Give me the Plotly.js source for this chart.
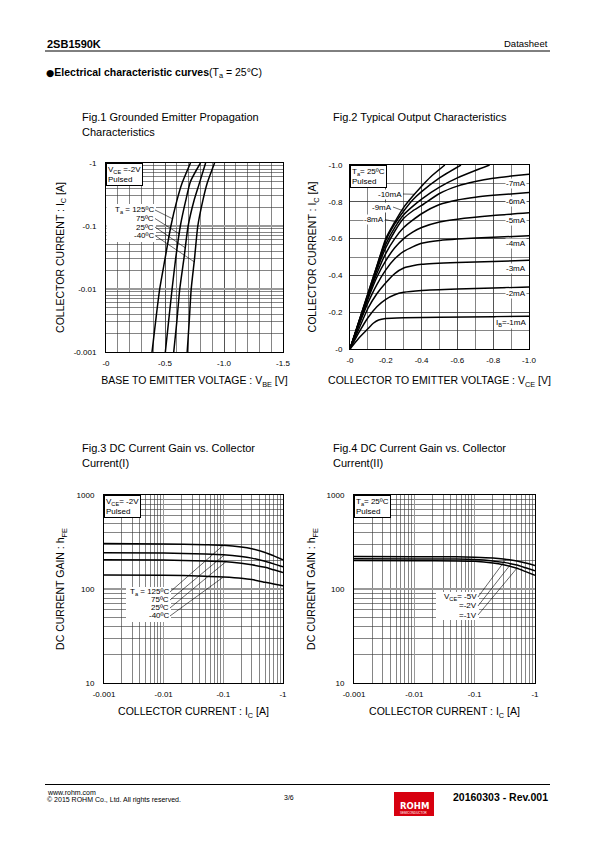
<!DOCTYPE html>
<html><head><meta charset="utf-8">
<script src="https://cdn.plot.ly/plotly-3.0.1.min.js"></script>
<style>html,body{margin:0;padding:0;background:#fff}#chart{width:595px;height:842px}</style>
</head><body><div id="chart"></div>
<script>
// ===== DATA (magnitudes; the datasheet labels them negative, PNP device) =====
// Fig.1  Grounded emitter propagation: |VBE| [V] vs |IC| [A], VCE=-2V
const fig1Labels = ['T<sub>a</sub> = 125ºC', '75ºC', '25ºC', '-40ºC'];
const fig1Ic_125 = [0.001, 0.003, 0.01, 0.03, 0.1, 0.25, 0.48, 1.0];
const fig1Vbe_125 = [0.39, 0.42, 0.455, 0.50, 0.55, 0.60, 0.645, 0.716];
const fig1Ic_75 = [0.001, 0.003, 0.01, 0.03, 0.1, 0.25, 0.51, 1.0];
const fig1Vbe_75 = [0.503, 0.53, 0.56, 0.59, 0.63, 0.675, 0.716, 0.80];
const fig1Ic_25 = [0.001, 0.003, 0.01, 0.03, 0.1, 0.25, 0.45, 1.0];
const fig1Vbe_25 = [0.574, 0.60, 0.625, 0.66, 0.696, 0.745, 0.787, 0.844];
const fig1Ic_m40 = [0.001, 0.003, 0.01, 0.03, 0.1, 0.25, 0.48, 1.0];
const fig1Vbe_m40 = [0.688, 0.705, 0.722, 0.75, 0.778, 0.82, 0.858, 0.92];
const fig1TickVals = [0.001, 0.01, 0.1, 1];
const fig1TickText = ['-0.001', '-0.01', '-0.1', '-1'];
const fig1XTickVals = [0, 0.5, 1.0, 1.5];
const fig1XTickText = ['-0', '-0.5', '-1.0', '-1.5'];

// Fig.2  Output characteristics: |VCE| [V] vs |IC| [A], Ta=25C
const fig2Labels = ['I<sub>B</sub>=-1mA', '-2mA', '-3mA', '-4mA', '-5mA', '-6mA', '-7mA', '-8mA', '-9mA', '-10mA'];
const fig2Vce_1 = [0, 0.05, 0.1, 0.13, 0.16, 0.2, 0.3, 0.5, 0.8, 1.0];
const fig2Ic_1  = [0, 0.06, 0.11, 0.14, 0.158, 0.166, 0.17, 0.172, 0.175, 0.178];
const fig2Vce_2 = [0, 0.05, 0.1, 0.15, 0.2, 0.25, 0.3, 0.4, 0.6, 0.8, 1.0];
const fig2Ic_2  = [0, 0.09, 0.17, 0.23, 0.27, 0.295, 0.308, 0.318, 0.326, 0.331, 0.337];
const fig2Vce_3 = [0, 0.05, 0.1, 0.15, 0.2, 0.25, 0.3, 0.35, 0.4, 0.6, 0.8, 1.0];
const fig2Ic_3  = [0, 0.11, 0.22, 0.30, 0.36, 0.41, 0.44, 0.452, 0.46, 0.47, 0.476, 0.482];
const fig2Vce_4 = [0, 0.05, 0.1, 0.15, 0.2, 0.25, 0.3, 0.35, 0.4, 0.5, 0.6, 0.8, 1.0];
const fig2Ic_4  = [0, 0.13, 0.25, 0.35, 0.43, 0.49, 0.53, 0.555, 0.575, 0.59, 0.598, 0.607, 0.615];
const fig2Vce_5 = [0, 0.05, 0.1, 0.15, 0.2, 0.25, 0.3, 0.35, 0.4, 0.5, 0.6, 0.8, 1.0];
const fig2Ic_5  = [0, 0.135, 0.27, 0.39, 0.48, 0.55, 0.60, 0.635, 0.66, 0.69, 0.705, 0.725, 0.74];
const fig2Vce_6 = [0, 0.05, 0.1, 0.15, 0.2, 0.25, 0.3, 0.35, 0.4, 0.5, 0.6, 0.7, 0.8, 1.0];
const fig2Ic_6  = [0, 0.14, 0.28, 0.41, 0.52, 0.60, 0.66, 0.70, 0.735, 0.785, 0.81, 0.825, 0.835, 0.85];
const fig2Vce_7 = [0, 0.05, 0.1, 0.15, 0.2, 0.25, 0.3, 0.35, 0.4, 0.5, 0.6, 0.7, 0.8, 0.9, 1.0];
const fig2Ic_7  = [0, 0.145, 0.29, 0.43, 0.55, 0.64, 0.71, 0.75, 0.78, 0.845, 0.885, 0.91, 0.928, 0.94, 0.95];
const fig2Vce_8 = [0, 0.05, 0.1, 0.15, 0.2, 0.25, 0.3, 0.35, 0.4, 0.5, 0.6, 0.7, 0.78];
const fig2Ic_8  = [0, 0.15, 0.29, 0.44, 0.57, 0.66, 0.73, 0.775, 0.815, 0.88, 0.93, 0.97, 1.0];
const fig2Vce_9 = [0, 0.05, 0.1, 0.15, 0.2, 0.25, 0.3, 0.35, 0.4, 0.5, 0.62];
const fig2Ic_9  = [0, 0.15, 0.30, 0.45, 0.59, 0.68, 0.75, 0.81, 0.855, 0.93, 1.0];
const fig2Vce_10 = [0, 0.05, 0.1, 0.15, 0.2, 0.25, 0.3, 0.35, 0.4, 0.45, 0.53];
const fig2Ic_10  = [0, 0.15, 0.30, 0.45, 0.60, 0.69, 0.77, 0.83, 0.885, 0.935, 1.0];
const fig2TickVals = [0, 0.2, 0.4, 0.6, 0.8, 1.0];
const fig2XTickText = ['-0', '-0.2', '-0.4', '-0.6', '-0.8', '-1.0'];
const fig2YTickText = ['-0', '-0.2', '-0.4', '-0.6', '-0.8', '-1.0'];

// Fig.3  DC current gain vs |IC| [A], VCE=-2V, by temperature
const fig3Labels = ['T<sub>a</sub> = 125ºC', '75ºC', '25ºC', '-40ºC'];
const fig3Ic = [0.001, 0.01, 0.05, 0.1, 0.2, 0.3, 0.5, 0.7, 1.0];
const fig3Hfe_125 = [305, 302, 296, 292, 280, 268, 245, 225, 205];
const fig3Hfe_75  = [243, 241, 236, 232, 222, 213, 197, 185, 172];
const fig3Hfe_25  = [205, 203, 199, 196, 188, 181, 170, 160, 150];
const fig3Hfe_m40 = [141, 140, 137, 134, 130, 126, 118, 113, 108];

// Fig.4  DC current gain vs |IC| [A], Ta=25C, by VCE
const fig4Labels = ['V<sub>CE</sub>= -5V', '=-2V', '=-1V'];
const fig4Ic = [0.001, 0.01, 0.05, 0.1, 0.2, 0.3, 0.5, 0.7, 1.0];
const fig4Hfe_5V = [222, 221, 220, 218, 214, 209, 199, 189, 178];
const fig4Hfe_2V = [210, 209, 208, 206, 199, 192, 180, 168, 156];
const fig4Hfe_1V = [201, 200, 199, 197, 189, 181, 166, 153, 140];

const icTickVals = [0.001, 0.01, 0.1, 1];
const icTickText = ['-0.001', '-0.01', '-0.1', '-1'];
const hfeTickVals = [10, 100, 1000];
const hfeTickText = ['10', '100', '1000'];

// ===== LAYOUT HELPERS =====
const W = 595, H = 842;
const FONT = '"Liberation Sans", Arial, Helvetica, sans-serif';
const BOX = {
  1: {x0: 106, x1: 283, y0: 163, y1: 352, xr: [0, 1.5], yr: [-3, 0], xlog: false, ylog: true},
  2: {x0: 350, x1: 529, y0: 165, y1: 349, xr: [0, 1], yr: [0, 1], xlog: false, ylog: false},
  3: {x0: 104, x1: 283, y0: 495, y1: 683, xr: [-3, 0], yr: [1, 3], xlog: true, ylog: true},
  4: {x0: 354, x1: 535, y0: 495, y1: 683, xr: [-3, 0], yr: [1, 3], xlog: true, ylog: true}
};
const dom = n => ({x: [BOX[n].x0 / W, BOX[n].x1 / W], y: [1 - BOX[n].y1 / H, 1 - BOX[n].y0 / H]});
function logMinor(decades) { const out = []; decades.forEach(d => { for (let k = 2; k <= 9; k++) out.push(+(d * k).toPrecision(3)); }); return out; }
function linMinor(a, b, step) { const out = []; for (let v = a; v <= b + 1e-9; v += step) out.push(+v.toFixed(3)); return out; }

const MINOR_C = '#333', MAJOR_C = '#9a9a9a';
function axis(n, o) {
  const d = dom(n);
  const base = {
    domain: o.isX ? d.x : d.y, anchor: o.anchor, range: o.range, type: o.type || 'linear',
    showline: true, linecolor: '#000', linewidth: 1, mirror: true, zeroline: false,
    ticks: 'outside', ticklen: o.ticklen, tickcolor: 'rgba(0,0,0,0)',
    tickfont: {family: FONT, size: 8, color: '#000'},
    tickmode: 'array', tickvals: o.tickvals, ticktext: o.ticktext,
    showgrid: true, gridcolor: o.majorColor || MINOR_C, gridwidth: o.majorWidth || 0.6,
    minor: {tickmode: 'array', tickvals: o.minor, showgrid: true, gridcolor: MINOR_C, gridwidth: 0.6, ticks: ''},
    fixedrange: true
  };
  if (o.title) base.title = {text: o.title, font: {family: FONT, size: 10.5, color: '#000'}, standoff: o.standoff};
  return base;
}

function toPx(n, dx, dy) {
  const b = BOX[n];
  return [b.x0 + (dx - b.xr[0]) / (b.xr[1] - b.xr[0]) * (b.x1 - b.x0),
          b.y1 - (dy - b.yr[0]) / (b.yr[1] - b.yr[0]) * (b.y1 - b.y0)];
}
// find display-space point on a polyline where x (or y) equals val
function pointOn(n, xs, ys, key, val) {
  const b = BOX[n];
  const X = xs.map(v => b.xlog ? Math.log10(v) : v), Y = ys.map(v => b.ylog ? Math.log10(v) : v);
  const t = key === 'x' ? (b.xlog ? Math.log10(val) : val) : (b.ylog ? Math.log10(val) : val);
  const A = key === 'x' ? X : Y, B = key === 'x' ? Y : X;
  for (let i = 0; i < A.length - 1; i++) {
    if ((A[i] - t) * (A[i + 1] - t) <= 0) {
      const f = (t - A[i]) / (A[i + 1] - A[i]);
      const v = B[i] + f * (B[i + 1] - B[i]);
      return key === 'x' ? [t, v] : [v, t];
    }
  }
  return [X[X.length - 1], Y[Y.length - 1]];
}
const LBL = {family: FONT, size: 8, color: '#000'};
function leader(n, xs, ys, key, val, tailX, tailY, text) {
  const [dx, dy] = pointOn(n, xs, ys, key, val);
  const [px, py] = toPx(n, dx, dy);
  return {xref: 'x' + n, yref: 'y' + n, x: dx, y: dy, ax: tailX - px, ay: tailY - py,
    text: text, showarrow: true, arrowhead: 0, arrowwidth: 0.6, arrowcolor: '#000', standoff: 0,
    xanchor: 'right', yanchor: 'middle', align: 'right', bgcolor: 'rgba(255,255,255,0)', borderpad: 0,
    font: LBL};
}
function ptxt(x, y, text, o) {
  return Object.assign({xref: 'paper', yref: 'paper', x: x / W, y: 1 - y / H, text: text, showarrow: false,
    xanchor: 'left', yanchor: 'middle', font: {family: FONT, size: 11, color: '#000'}}, o || {});
}
function cornerBox(n, text) {
  const b = BOX[n];
  return {xref: 'paper', yref: 'paper', x: b.x0 / W, y: 1 - b.y0 / H, xanchor: 'left', yanchor: 'top',
    text: text, showarrow: false, align: 'left', bgcolor: '#fff', bordercolor: '#000', borderwidth: 1, borderpad: 1,
    font: LBL};
}
function dataLabel(n, x, y, text) {
  return {xref: 'x' + n, yref: 'y' + n, x: x, y: y, xanchor: 'right', yanchor: 'middle', text: text, showarrow: false,
    bgcolor: '#fff', borderpad: 0, font: LBL};
}
function whiteRect(x0, y0, x1, y1) {
  return {type: 'rect', xref: 'paper', yref: 'paper', x0: x0 / W, x1: x1 / W, y0: 1 - y1 / H, y1: 1 - y0 / H,
    fillcolor: '#fff', line: {width: 0}, layer: 'above'};
}

// ===== TRACES =====
const LINE = {color: '#000', width: 1.5, shape: 'spline', smoothing: 0.6};
function tr(n, x, y, name) { return {x: x, y: y, name: name, xaxis: 'x' + n, yaxis: 'y' + n, mode: 'lines', line: LINE, showlegend: false, hoverinfo: 'skip'}; }
const traces = [
  tr(1, fig1Vbe_125, fig1Ic_125, '125'), tr(1, fig1Vbe_75, fig1Ic_75, '75'),
  tr(1, fig1Vbe_25, fig1Ic_25, '25'), tr(1, fig1Vbe_m40, fig1Ic_m40, '-40'),
  tr(2, fig2Vce_1, fig2Ic_1, '1mA'), tr(2, fig2Vce_2, fig2Ic_2, '2mA'), tr(2, fig2Vce_3, fig2Ic_3, '3mA'),
  tr(2, fig2Vce_4, fig2Ic_4, '4mA'), tr(2, fig2Vce_5, fig2Ic_5, '5mA'), tr(2, fig2Vce_6, fig2Ic_6, '6mA'),
  tr(2, fig2Vce_7, fig2Ic_7, '7mA'), tr(2, fig2Vce_8, fig2Ic_8, '8mA'), tr(2, fig2Vce_9, fig2Ic_9, '9mA'),
  tr(2, fig2Vce_10, fig2Ic_10, '10mA'),
  tr(3, fig3Ic, fig3Hfe_125, '125'), tr(3, fig3Ic, fig3Hfe_75, '75'), tr(3, fig3Ic, fig3Hfe_25, '25'), tr(3, fig3Ic, fig3Hfe_m40, '-40'),
  tr(4, fig4Ic, fig4Hfe_5V, '-5V'), tr(4, fig4Ic, fig4Hfe_2V, '-2V'), tr(4, fig4Ic, fig4Hfe_1V, '-1V')
];

// ===== ANNOTATIONS =====
const ann = [
  ptxt(45, 44, '<b>2SB1590K</b>', {font: {family: FONT, size: 11, color: '#000'}}),
  ptxt(550, 44, 'Datasheet', {xanchor: 'right', font: {family: FONT, size: 9.5, color: '#000'}}),
  ptxt(44, 73, '<span style="font-family:DejaVu Sans;font-size:9.5px">●</span><b>Electrical characteristic curves</b>(T<sub>a</sub> = 25°C)', {font: {family: FONT, size: 10.5, color: '#000'}}),
  ptxt(80, 117, 'Fig.1 Grounded Emitter Propagation'),
  ptxt(80, 132, 'Characteristics'),
  ptxt(331, 117, 'Fig.2 Typical Output Characteristics'),
  ptxt(80, 448, 'Fig.3 DC Current Gain vs. Collector'),
  ptxt(80, 463, 'Current(I)'),
  ptxt(331, 448, 'Fig.4 DC Current Gain vs. Collector'),
  ptxt(331, 463, 'Current(II)'),
  ptxt(45, 792, 'www.rohm.com', {font: {family: FONT, size: 7, color: '#000'}}),
  ptxt(45, 800, '© 2015 ROHM Co., Ltd. All rights reserved.', {font: {family: FONT, size: 7, color: '#000'}}),
  ptxt(289, 797, '3/6', {xanchor: 'center', font: {family: FONT, size: 7, color: '#000'}}),
  ptxt(414, 806, '<b>ROHM</b>', {xanchor: 'center', font: {family: 'DejaVu Sans, sans-serif', size: 8.5, color: '#fff'}}),
  ptxt(414, 812.5, 'SEMICONDUCTOR', {xanchor: 'center', font: {family: FONT, size: 3, color: '#fff'}}),
  ptxt(550, 797, '<b>20160303 - Rev.001</b>', {xanchor: 'right', font: {family: FONT, size: 10.5, color: '#000'}}),

  cornerBox(1, 'V<sub>CE</sub> =-2V<br>Pulsed'),
  cornerBox(2, 'T<sub>a</sub>= 25ºC<br>Pulsed'),
  cornerBox(3, 'V<sub>CE</sub>= -2V<br>Pulsed'),
  cornerBox(4, 'T<sub>a</sub>= 25ºC<br>Pulsed'),

  // Fig.1 temperature labels
  leader(1, fig1Vbe_125, fig1Ic_125, 'y', 0.13, 155, 210, fig1Labels[0]),
  leader(1, fig1Vbe_75, fig1Ic_75, 'y', 0.075, 155, 218.5, fig1Labels[1]),
  leader(1, fig1Vbe_25, fig1Ic_25, 'y', 0.045, 155, 227, fig1Labels[2]),
  leader(1, fig1Vbe_m40, fig1Ic_m40, 'y', 0.027, 155, 235.5, fig1Labels[3]),

  // Fig.2 base current labels
  dataLabel(2, 0.99, 0.142, fig2Labels[0]),
  dataLabel(2, 0.99, 0.30, fig2Labels[1]),
  dataLabel(2, 0.99, 0.44, fig2Labels[2]),
  dataLabel(2, 0.99, 0.572, fig2Labels[3]),
  dataLabel(2, 0.99, 0.696, fig2Labels[4]),
  dataLabel(2, 0.99, 0.80, fig2Labels[5]),
  dataLabel(2, 0.99, 0.902, fig2Labels[6]),
  Object.assign(leader(2, fig2Vce_8, fig2Ic_8, 'x', 0.27, 385, 219.5, fig2Labels[7]), {bgcolor: '#fff'}),
  Object.assign(leader(2, fig2Vce_9, fig2Ic_9, 'x', 0.30, 393, 207, fig2Labels[8]), {bgcolor: '#fff'}),
  Object.assign(leader(2, fig2Vce_10, fig2Ic_10, 'x', 0.36, 403, 194, fig2Labels[9]), {bgcolor: '#fff'}),

  // Fig.3 temperature labels
  leader(3, fig3Ic, fig3Hfe_125, 'x', 0.1, 170, 592, fig3Labels[0]),
  leader(3, fig3Ic, fig3Hfe_75, 'x', 0.105, 170, 600, fig3Labels[1]),
  leader(3, fig3Ic, fig3Hfe_25, 'x', 0.11, 170, 608, fig3Labels[2]),
  leader(3, fig3Ic, fig3Hfe_m40, 'x', 0.1, 170, 616, fig3Labels[3]),

  // Fig.4 VCE labels
  leader(4, fig4Ic, fig4Hfe_5V, 'x', 0.33, 478, 597, fig4Labels[0]),
  leader(4, fig4Ic, fig4Hfe_2V, 'x', 0.40, 478, 606, fig4Labels[1]),
  leader(4, fig4Ic, fig4Hfe_1V, 'x', 0.50, 478, 615, fig4Labels[2])
];

const shapes = [
  {type: 'line', xref: 'paper', yref: 'paper', x0: 45 / W, x1: 550 / W, y0: 1 - 51 / H, y1: 1 - 51 / H, line: {color: '#000', width: 1}},
  {type: 'line', xref: 'paper', yref: 'paper', x0: 45 / W, x1: 550 / W, y0: 1 - 784.5 / H, y1: 1 - 784.5 / H, line: {color: '#000', width: 1}},
  {type: 'rect', xref: 'paper', yref: 'paper', x0: 394 / W, x1: 434 / W, y0: 1 - 816 / H, y1: 1 - 792 / H, fillcolor: '#d7000f', line: {width: 0}},
  whiteRect(106.5, 204, 156, 242),
  whiteRect(126, 587, 171, 622),
  whiteRect(436, 592, 479, 620)
];

const layout = {
  width: W, height: H, margin: {l: 0, r: 0, t: 0, b: 0}, paper_bgcolor: '#fff', plot_bgcolor: '#fff',
  showlegend: false, font: {family: FONT, color: '#000'},
  xaxis: axis(1, {isX: true, anchor: 'y', range: BOX[1].xr, tickvals: fig1XTickVals, ticktext: fig1XTickText, minor: linMinor(0, 1.5, 0.1), ticklen: 3,
    title: 'BASE TO EMITTER VOLTAGE : V<sub>BE</sub> [V]', standoff: 10}),
  yaxis: axis(1, {isX: false, anchor: 'x', type: 'log', range: BOX[1].yr, tickvals: fig1TickVals, ticktext: fig1TickText, minor: logMinor([0.001, 0.01, 0.1]), ticklen: 7,
    majorColor: MAJOR_C, majorWidth: 1.3, title: 'COLLECTOR CURRENT : I<sub>C</sub> [A]', standoff: 7}),
  xaxis2: axis(2, {isX: true, anchor: 'y2', range: BOX[2].xr, tickvals: fig2TickVals, ticktext: fig2XTickText, minor: linMinor(0, 1, 0.1), ticklen: 3,
    title: 'COLLECTOR TO EMITTER VOLTAGE : V<sub>CE</sub> [V]', standoff: 13}),
  yaxis2: axis(2, {isX: false, anchor: 'x2', range: BOX[2].yr, tickvals: fig2TickVals, ticktext: fig2YTickText, minor: linMinor(0, 1, 0.1), ticklen: 5,
    title: 'COLLECTOR CURRENT : I<sub>C</sub> [A]', standoff: 9}),
  xaxis3: axis(3, {isX: true, anchor: 'y3', type: 'log', range: BOX[3].xr, tickvals: icTickVals, ticktext: icTickText, minor: logMinor([0.001, 0.01, 0.1]), ticklen: 3,
    majorColor: MAJOR_C, majorWidth: 1.3, title: 'COLLECTOR CURRENT : I<sub>C</sub> [A]', standoff: 10}),
  yaxis3: axis(3, {isX: false, anchor: 'x3', type: 'log', range: BOX[3].yr, tickvals: hfeTickVals, ticktext: hfeTickText, minor: logMinor([10, 100]), ticklen: 7,
    majorColor: MAJOR_C, majorWidth: 1.3, title: 'DC CURRENT GAIN : h<sub>FE</sub>', standoff: 9}),
  xaxis4: axis(4, {isX: true, anchor: 'y4', type: 'log', range: BOX[4].xr, tickvals: icTickVals, ticktext: icTickText, minor: logMinor([0.001, 0.01, 0.1]), ticklen: 3,
    majorColor: MAJOR_C, majorWidth: 1.3, title: 'COLLECTOR CURRENT : I<sub>C</sub> [A]', standoff: 10}),
  yaxis4: axis(4, {isX: false, anchor: 'x4', type: 'log', range: BOX[4].yr, tickvals: hfeTickVals, ticktext: hfeTickText, minor: logMinor([10, 100]), ticklen: 7,
    majorColor: MAJOR_C, majorWidth: 1.3, title: 'DC CURRENT GAIN : h<sub>FE</sub>', standoff: 8}),
  annotations: ann,
  shapes: shapes
};

Plotly.newPlot('chart', traces, layout, {staticPlot: true, displayModeBar: false});
</script>
</body></html>
